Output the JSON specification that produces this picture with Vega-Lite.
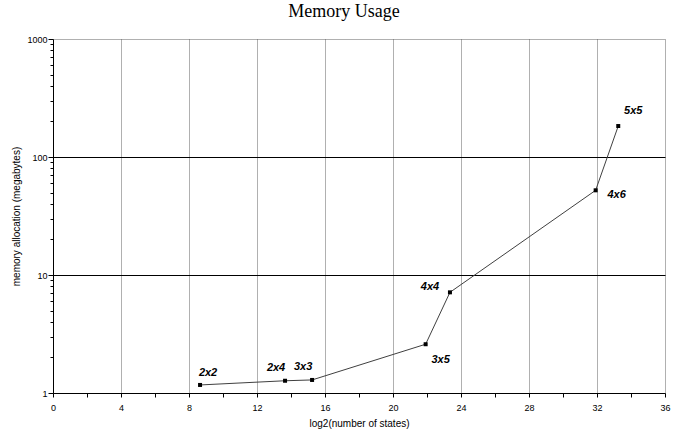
{
  "$schema": "https://vega.github.io/schema/vega-lite/v6.json",
  "width": 612,
  "height": 354,
  "autosize": {"type": "none"},
  "padding": {"left": 53, "top": 39, "right": 19, "bottom": 39},
  "background": "white",
  "title": {
    "text": "Memory Usage",
    "font": "Liberation Serif",
    "fontSize": 18,
    "fontWeight": "normal",
    "color": "black",
    "anchor": "middle",
    "frame": "group",
    "baseline": "alphabetic",
    "offset": 0,
    "dx": -15
  },
  "config": {
    "view": {"stroke": "#606060", "strokeDash": [1, 1], "strokeWidth": 1},
    "axis": {
      "labelFont": "Liberation Sans",
      "titleFont": "Liberation Sans",
      "labelFontSize": 9,
      "titleFontSize": 10,
      "titleFontWeight": "normal",
      "labelColor": "black",
      "titleColor": "black",
      "domainColor": "black",
      "tickColor": "black"
    }
  },
  "data": {
    "values": [
      {"states": 8.65, "memory": 1.17, "label": "2x2"},
      {"states": 13.65, "memory": 1.27, "label": "2x4"},
      {"states": 15.24, "memory": 1.29, "label": "3x3"},
      {"states": 21.92, "memory": 2.59, "label": "3x5"},
      {"states": 23.35, "memory": 7.13, "label": "4x4"},
      {"states": 31.92, "memory": 52.2, "label": "4x6"},
      {"states": 33.25, "memory": 183, "label": "5x5"}
    ]
  },
  "encoding": {
    "x": {
      "field": "states",
      "type": "quantitative",
      "scale": {"domain": [0, 36], "nice": false, "zero": false},
      "axis": {
        "title": "log2(number of states)",
        "values": [0, 2, 4, 6, 8, 10, 12, 14, 16, 18, 20, 22, 24, 26, 28, 30, 32, 34, 36],
        "labelExpr": "datum.value % 4 == 0 ? datum.label : ''",
        "grid": true,
        "gridColor": "#606060",
        "gridDash": [1, 1],
        "gridOpacity": {"condition": {"test": "datum.value % 4 == 0 && datum.value > 0 && datum.value < 36", "value": 1}, "value": 0},
        "tickSize": 4,
        "labelPadding": 6,
        "titlePadding": 6,
        "labelFlush": false,
        "labelOverlap": false
      }
    },
    "y": {
      "field": "memory",
      "type": "quantitative",
      "scale": {"type": "log", "domain": [1, 1000], "nice": false},
      "axis": {
        "title": "memory allocation (megabytes)",
        "values": [1, 2, 3, 4, 5, 6, 7, 8, 9, 10, 20, 30, 40, 50, 60, 70, 80, 90, 100, 200, 300, 400, 500, 600, 700, 800, 900, 1000],
        "labelExpr": "indexof([1, 10, 100, 1000], datum.value) >= 0 ? datum.label : ''",
        "format": "d",
        "grid": true,
        "gridColor": "black",
        "gridOpacity": {"condition": {"test": "datum.value == 10 || datum.value == 100", "value": 1}, "value": 0},
        "tickSize": {"condition": {"test": "indexof([1, 10, 100, 1000], datum.value) >= 0", "value": 5}, "value": 3},
        "labelPadding": 1,
        "titlePadding": 5,
        "labelFlush": false,
        "labelOverlap": false
      }
    }
  },
  "layer": [
    {"mark": {"type": "line", "color": "#404040", "strokeWidth": 1}},
    {"mark": {"type": "point", "shape": "square", "filled": true, "color": "black", "size": 16, "opacity": 1}},
    {"transform": [{"filter": "datum.label == '2x2'"}], "mark": {"type": "text", "font": "Liberation Sans", "fontSize": 11, "fontStyle": "italic", "fontWeight": "bold", "color": "black", "dx": 8, "dy": -12}, "encoding": {"text": {"field": "label"}}},
    {"transform": [{"filter": "datum.label == '2x4' || datum.label == '3x3'"}], "mark": {"type": "text", "font": "Liberation Sans", "fontSize": 11, "fontStyle": "italic", "fontWeight": "bold", "color": "black", "dx": -9, "dy": -13}, "encoding": {"text": {"field": "label"}}},
    {"transform": [{"filter": "datum.label == '3x5'"}], "mark": {"type": "text", "font": "Liberation Sans", "fontSize": 11, "fontStyle": "italic", "fontWeight": "bold", "color": "black", "dx": 15, "dy": 16}, "encoding": {"text": {"field": "label"}}},
    {"transform": [{"filter": "datum.label == '4x4'"}], "mark": {"type": "text", "font": "Liberation Sans", "fontSize": 11, "fontStyle": "italic", "fontWeight": "bold", "color": "black", "dx": -20, "dy": -5}, "encoding": {"text": {"field": "label"}}},
    {"transform": [{"filter": "datum.label == '4x6'"}], "mark": {"type": "text", "font": "Liberation Sans", "fontSize": 11, "fontStyle": "italic", "fontWeight": "bold", "color": "black", "dx": 21, "dy": 5}, "encoding": {"text": {"field": "label"}}},
    {"transform": [{"filter": "datum.label == '5x5'"}], "mark": {"type": "text", "font": "Liberation Sans", "fontSize": 11, "fontStyle": "italic", "fontWeight": "bold", "color": "black", "dx": 15, "dy": -15}, "encoding": {"text": {"field": "label"}}}
  ]
}
